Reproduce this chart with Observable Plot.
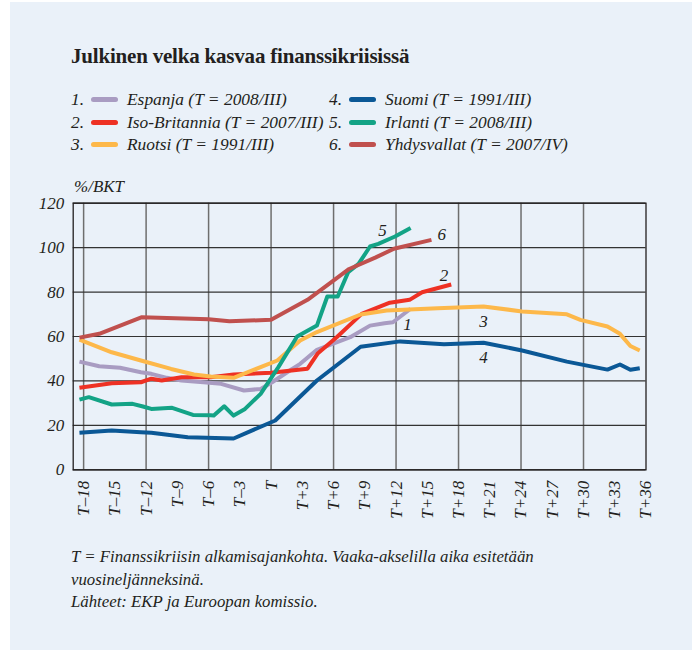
<!DOCTYPE html>
<html><head><meta charset="utf-8">
<script src="https://cdn.jsdelivr.net/npm/d3@7"></script>
<script src="https://cdn.jsdelivr.net/npm/@observablehq/plot@0.6"></script>
<style>
body{margin:0;background:#fff;width:692px;height:650px;overflow:hidden;font-family:"Liberation Serif","Times New Roman",serif;color:#231f20}
#panel{position:absolute;left:10px;top:2px;right:0;bottom:0;background:#eaf1f9}
#title{position:absolute;left:71px;top:44px;font-weight:bold;font-size:21px;letter-spacing:-0.2px;white-space:nowrap}
#legend{position:absolute;left:71px;top:88px;font-style:italic;font-size:17.4px;line-height:22.7px}
.item{position:absolute;white-space:nowrap;display:flex;align-items:center}
.num{display:inline-block;width:20px}
.sw{display:inline-block;width:27px;height:5px;border-radius:3px;margin-right:9px}
#unit{position:absolute;left:74px;top:177px;font-style:italic;font-size:17px}
#chart{position:absolute;left:0;top:190px}
#caption{position:absolute;left:71px;top:546px;font-style:italic;font-size:16.8px;line-height:22.6px;white-space:nowrap}
</style></head>
<body>
<div id="panel"></div>
<div id="title">Julkinen velka kasvaa finanssikriisissä</div>
<div id="legend"></div>
<div id="unit">%/BKT</div>
<div id="chart"></div>
<div id="caption">T = Finanssikriisin alkamisajankohta. Vaaka-akselilla aika esitetään<br>vuosineljänneksinä.<br>Lähteet: EKP ja Euroopan komissio.</div>
<script>
// Series data: [quarter relative to T, public debt % of GDP]
const espanja = [[-18.4,48.7],[-16.5,46.6],[-14.5,45.9],[-12.5,43.9],[-11.5,43.2],[-10,41.4],[-8.6,40.2],[-6.5,39.4],[-4.8,38.7],[-2.6,35.7],[-1,36.4],[0.1,39.4],[1.8,44.7],[2.8,47.7],[4.4,54],[7.6,59.7],[9.5,64.9],[10.9,66],[11.7,66.4],[13.4,72.5]];
const isoBritannia = [[-18.4,36.9],[-15.3,39],[-12.5,39.4],[-11.5,41],[-10.5,40.2],[-8.6,41.7],[-5.8,41.7],[-3.6,42.9],[0,43.7],[3.5,45.5],[4.5,52.5],[6.3,59.7],[8.7,70.2],[11.4,75.2],[13.3,76.5],[14.5,79.9],[17.3,83.4]];
const ruotsi = [[-18.4,58.6],[-15.3,52.9],[-12.5,49.2],[-9.6,45.4],[-7.4,42.9],[-5.8,42],[-3.6,41.4],[0.6,49.2],[2.8,58.2],[4.4,62],[8.6,69.9],[11.1,71.7],[16,72.7],[20.4,73.5],[24.1,71.3],[28.4,70],[29.7,67.5],[32.3,64.5],[33.5,61.2],[34.5,55.7],[35.4,53.7]];
const suomi = [[-18.4,16.7],[-15.3,17.7],[-12.5,16.9],[-11.5,16.7],[-8,14.7],[-3.6,14.1],[0.4,22.2],[4.4,40.2],[8.6,55.4],[12.4,57.8],[16.6,56.5],[20.4,57.2],[24.1,53.7],[28.4,48.7],[32.3,45.1],[33.5,47.4],[34.5,45],[35.4,45.7]];
const irlanti = [[-18.4,31.6],[-17.5,32.7],[-15.3,29.4],[-13.3,29.7],[-12.3,28.5],[-11.5,27.4],[-9.5,27.9],[-7.5,24.7],[-5.8,24.5],[-5.5,24.4],[-4.5,28.6],[-3.6,24.4],[-2.5,27.4],[-1,34.2],[0.7,46.2],[2.5,60],[4.4,64.9],[5.4,78],[6.4,78],[7.4,88.9],[8.4,92.7],[9.5,100.5],[10.3,101.7],[11.9,105],[13.4,108.8]];
const yhdysvallat = [[-18.4,59.5],[-16.5,61.2],[-12.4,68.7],[-6,67.8],[-4,66.9],[0,67.5],[3.5,76.5],[7.5,90.4],[10,95.5],[11.8,99.5],[15.4,103.5]];

const seriesNames = ["Espanja","Iso-Britannia","Ruotsi","Suomi","Irlanti","Yhdysvallat"];
const legendLabels = ["Espanja (T = 2008/III)","Iso-Britannia (T = 2007/III)","Ruotsi (T = 1991/III)","Suomi (T = 1991/III)","Irlanti (T = 2008/III)","Yhdysvallat (T = 2007/IV)"];
const seriesData = [espanja, isoBritannia, ruotsi, suomi, irlanti, yhdysvallat];
const colors = ["#a99cc2","#ee3124","#fdb84a","#0b5896","#13a386","#c0504e"];

const yTicks = [0,20,40,60,80,100,120];
const xTicks = [-18,-15,-12,-9,-6,-3,0,3,6,9,12,15,18,21,24,27,30,33,36];
const xGrid = [-18,-12,-6,0,6,12,18,24,30];
// on-chart number labels: [text, quarter, value]
const lineLabels = [["5",10.7,107.7],["6",16.4,105.9],["2",16.6,87.6],["1",13.1,65.3],["3",20.4,66.9],["4",20.4,50.7]];

const FONT = '"Liberation Serif","Times New Roman",serif';

// legend
const leg = document.getElementById("legend");
seriesNames.forEach((n,i)=>{
  const col = Math.floor(i/3), row = i%3;
  const d = document.createElement("div");
  d.className="item";
  d.style.left = (col*258)+"px";
  d.style.top = (row*22.7)+"px";
  d.innerHTML = `<span class="num">${i+1}.</span><span class="sw" style="background:${colors[i]}"></span><span>${legendLabels[i]}</span>`;
  leg.appendChild(d);
});

const rows = [];
seriesData.forEach((arr,i)=>arr.forEach(([q,v])=>rows.push({q,v,s:seriesNames[i]})));
const labs = lineLabels.map(([t,q,v])=>({t,q,v}));

const fmt = q => q===0 ? "T" : (q<0 ? "T–"+(-q) : "T+"+q);

const chart = Plot.plot({
  width:692, height:340,
  marginLeft:72.7, marginRight:46.5, marginTop:12.7, marginBottom:60.7,
  style:{background:"transparent", fontFamily:FONT, fontStyle:"italic", fontSize:"17px", color:"#231f20"},
  x:{domain:[-19,36], ticks:xTicks, tickFormat:fmt, tickRotate:-90, tickSize:0, tickPadding:11, label:null},
  y:{domain:[0,120], ticks:yTicks, tickSize:0, tickPadding:9, label:null},
  color:{domain:seriesNames, range:colors},
  marks:[
    Plot.ruleX(xGrid,{stroke:"#6e6e6e", strokeWidth:1.5}),
    Plot.ruleY(yTicks,{stroke:"#333", strokeWidth:1.2}),
    Plot.line(rows,{x:"q", y:"v", z:"s", stroke:"s", strokeWidth:4, strokeLinejoin:"round", strokeLinecap:"butt", curve:"linear"}),
    Plot.text(labs,{x:"q", y:"v", text:"t", fill:"#231f20", fontSize:17, fontStyle:"italic"}),
    Plot.frame({stroke:"#231f20", strokeWidth:1.3})
  ]
});
document.getElementById("chart").appendChild(chart);
</script>
</body></html>
